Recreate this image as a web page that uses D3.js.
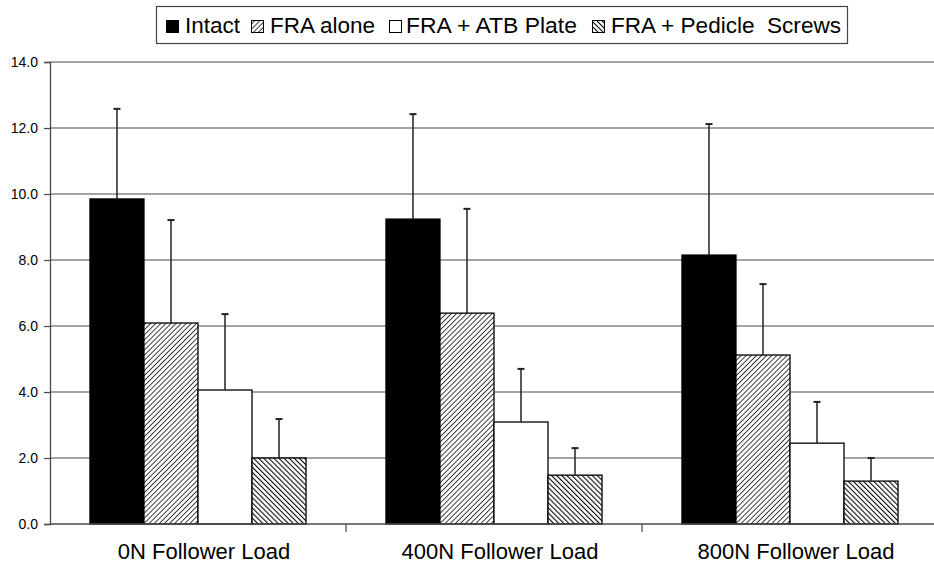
<!DOCTYPE html>
<html>
<head>
<meta charset="utf-8">
<script src="https://cdn.jsdelivr.net/npm/d3@7"></script>
<style>
  body { margin: 0; background: #fff; }
  svg { display: block; font-family: "Liberation Sans", Arial, sans-serif; }
</style>
</head>
<body>
<svg id="chart" width="934" height="563"></svg>
<script>
// Data
var categories = ["0N Follower Load", "400N Follower Load", "800N Follower Load"];
var seriesNames = ["Intact", "FRA alone", "FRA + ATB Plate", "FRA + Pedicle  Screws"];
var intact = [9.85, 9.24, 8.15];
var fraAlone = [6.09, 6.39, 5.12];
var fraAtb = [4.06, 3.09, 2.45];
var fraPedicle = [2.0, 1.48, 1.3];
var intactErr = [2.73, 3.18, 3.97];
var fraAloneErr = [3.12, 3.16, 2.15];
var fraAtbErr = [2.3, 1.61, 1.25];
var fraPedicleErr = [1.18, 0.82, 0.7];
var yTicks = [0, 2, 4, 6, 8, 10, 12, 14];

var values = [intact, fraAlone, fraAtb, fraPedicle];
var errors = [intactErr, fraAloneErr, fraAtbErr, fraPedicleErr];

var svg = d3.select("#chart"),
    margin = {top: 62, right: -4, bottom: 39, left: 50},
    width = +svg.attr("width") - margin.left - margin.right,
    height = +svg.attr("height") - margin.top - margin.bottom,
    g = svg.append("g").attr("transform", "translate(" + margin.left + "," + margin.top + ")");

// hatch patterns
var defs = svg.append("defs");
var p1 = defs.append("pattern").attr("id", "hatchUp")
    .attr("patternUnits", "userSpaceOnUse").attr("width", 3.6).attr("height", 3.6)
    .attr("patternTransform", "rotate(45)");
p1.append("rect").attr("width", 3.6).attr("height", 3.6).attr("fill", "#fff");
p1.append("line").attr("x1", 0).attr("y1", 0).attr("x2", 0).attr("y2", 3.6)
    .attr("stroke", "#000").attr("stroke-width", 1.5);
var p2 = defs.append("pattern").attr("id", "hatchDown")
    .attr("patternUnits", "userSpaceOnUse").attr("width", 3.6).attr("height", 3.6)
    .attr("patternTransform", "rotate(-45)");
p2.append("rect").attr("width", 3.6).attr("height", 3.6).attr("fill", "#fff");
p2.append("line").attr("x1", 0).attr("y1", 0).attr("x2", 0).attr("y2", 3.6)
    .attr("stroke", "#000").attr("stroke-width", 2.1);

var fills = ["#000", "url(#hatchUp)", "#fff", "url(#hatchDown)"];

var x0 = d3.scaleBand().domain(categories).range([0, width]).paddingInner(0).paddingOuter(0);
var x1 = d3.scaleBand().domain(d3.range(seriesNames.length))
    .range([0, x0.bandwidth()]).paddingOuter(0.74).paddingInner(0);
var y = d3.scaleLinear().domain([0, 14]).range([height, 0]);

// gridlines
g.append("g").selectAll("line").data(yTicks.slice(1)).enter().append("line")
    .attr("x1", 0).attr("x2", width)
    .attr("y1", function(d) { return y(d); }).attr("y2", function(d) { return y(d); })
    .attr("stroke", "#4a4a4a").attr("stroke-width", 1.2);

// bars
var groups = g.append("g").selectAll("g").data(categories).enter().append("g")
    .attr("transform", function(d) { return "translate(" + x0(d) + ",0)"; });

function rows(d, ci) {
  return values.map(function(s, si) { return {si: si, v: s[ci], e: errors[si][ci]}; });
}

groups.selectAll("rect").data(rows).enter().append("rect")
    .attr("x", function(d) { return x1(d.si); })
    .attr("y", function(d) { return y(d.v); })
    .attr("width", x1.bandwidth())
    .attr("height", function(d) { return height - y(d.v); })
    .attr("fill", function(d) { return fills[d.si]; })
    .attr("stroke", "#000").attr("stroke-width", 1.3);

// error bars
var eb = groups.selectAll("g.err").data(rows).enter().append("g").attr("class", "err");
eb.append("line")
    .attr("x1", function(d) { return x1(d.si) + x1.bandwidth() / 2; })
    .attr("x2", function(d) { return x1(d.si) + x1.bandwidth() / 2; })
    .attr("y1", function(d) { return y(d.v); })
    .attr("y2", function(d) { return y(d.v + d.e); })
    .attr("stroke", "#222").attr("stroke-width", 1.5);
eb.append("line")
    .attr("x1", function(d) { return x1(d.si) + x1.bandwidth() / 2 - 3.5; })
    .attr("x2", function(d) { return x1(d.si) + x1.bandwidth() / 2 + 3.5; })
    .attr("y1", function(d) { return y(d.v + d.e); })
    .attr("y2", function(d) { return y(d.v + d.e); })
    .attr("stroke", "#222").attr("stroke-width", 2);

// Y axis
var yAxis = g.append("g")
    .call(d3.axisLeft(y).tickValues(yTicks).tickFormat(d3.format(".1f")).tickSize(6).tickPadding(6));
yAxis.select(".domain").attr("stroke", "#4a4a4a").attr("stroke-width", 1.3);
yAxis.selectAll(".tick line").attr("stroke", "#4a4a4a").attr("stroke-width", 1.2);
yAxis.selectAll("text").attr("font-size", 14).attr("fill", "#000")
    .attr("font-family", "Liberation Sans, Arial, sans-serif");

// X axis
var xAxis = g.append("g").attr("transform", "translate(0," + height + ")");
xAxis.append("line").attr("x1", 0).attr("x2", width).attr("stroke", "#4a4a4a").attr("stroke-width", 1.3);
xAxis.selectAll("line.tk").data(categories.slice(1)).enter().append("line")
    .attr("x1", function(d) { return x0(d); }).attr("x2", function(d) { return x0(d); })
    .attr("y1", 0).attr("y2", 8).attr("stroke", "#4a4a4a").attr("stroke-width", 1.2);
xAxis.selectAll("text").data(categories).enter().append("text")
    .attr("x", function(d) { return x0(d) + x0.bandwidth() / 2 + 6; })
    .attr("y", 35)
    .attr("text-anchor", "middle")
    .attr("font-size", 22)
    .text(function(d) { return d; });

// legend
var legend = svg.append("g");
legend.append("rect").attr("x", 156.5).attr("y", 6.5).attr("width", 691).attr("height", 37)
    .attr("fill", "#fff").attr("stroke", "#444").attr("stroke-width", 1.2);
var legSq = [166, 251, 389, 592];
var legTx = [185, 270, 406, 611];
var legW = [55, 105, 171, 230];
var li = legend.selectAll("g").data(seriesNames).enter().append("g");
li.append("rect")
    .attr("x", function(d, i) { return legSq[i] + 0.5; }).attr("y", 20.5)
    .attr("width", 12).attr("height", 12)
    .attr("fill", function(d, i) { return fills[i]; })
    .attr("stroke", "#000").attr("stroke-width", 1);
li.append("text")
    .attr("x", function(d, i) { return legTx[i]; }).attr("y", 33).attr("font-size", 22)
    .attr("textLength", function(d, i) { return legW[i]; })
    .attr("lengthAdjust", "spacingAndGlyphs")
    .style("white-space", "pre")
    .text(function(d) { return d; });
</script>
</body>
</html>
